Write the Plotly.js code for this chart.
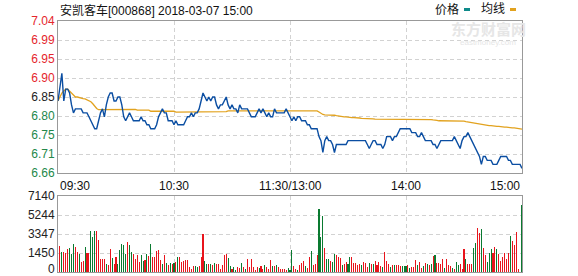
<!DOCTYPE html>
<html><head><meta charset="utf-8">
<script src="https://cdn.plot.ly/plotly-3.0.1.min.js"></script>
<style>html,body{margin:0;padding:0;background:#fff;}#chart{width:578px;height:276px;}</style>
</head><body><div id="chart"></div>
<script>
const stockTitle = "安凯客车[000868] 2018-03-07 15:00";
const legendNames = ["价格", "均线"];
const prevClose = 6.85;
const timeLabels = ["09:30", "10:30", "11:30/13:00", "14:00", "15:00"];
const timeTickMinutes = [0, 60, 120, 180, 240];
const priceTickLabels = ["6.66","6.71","6.75","6.80","6.85","6.90","6.95","6.99","7.04"];
const pctTicks = [-2.8,-2.1,-1.4,-0.7,0,0.7,1.4,2.1,2.8];
const pctTickLabels = ["2.80%","2.10%","1.40%","0.70%","0.00%","0.70%","1.40%","2.10%","2.80%"];
const volTickLabels = ["0","1450","3347","5244","7140"];
const volMax = 7140;

const price = [
6.84,6.87,6.91,6.84,6.87,6.87,6.86,6.83,6.81,6.82,
6.82,6.82,6.82,6.81,6.81,6.81,6.80,6.79,6.78,6.77,
6.77,6.79,6.81,6.82,6.80,6.83,6.85,6.86,6.86,6.84,
6.84,6.85,6.85,6.83,6.80,6.79,6.80,6.81,6.80,6.79,
6.79,6.79,6.79,6.80,6.79,6.79,6.78,6.78,6.77,6.77,
6.77,6.78,6.80,6.81,6.82,6.81,6.81,6.79,6.79,6.79,
6.78,6.79,6.78,6.78,6.78,6.78,6.79,6.80,6.80,6.81,
6.80,6.81,6.81,6.82,6.84,6.86,6.85,6.84,6.85,6.84,
6.85,6.85,6.83,6.82,6.83,6.83,6.84,6.85,6.83,6.82,
6.83,6.82,6.82,6.81,6.83,6.82,6.82,6.82,6.82,6.81,
6.80,6.80,6.80,6.81,6.82,6.81,6.82,6.81,6.80,6.81,
6.80,6.80,6.82,6.81,6.81,6.81,6.81,6.81,6.82,6.81,
6.80,6.79,6.80,6.79,6.80,6.80,6.79,6.79,6.79,6.78,
6.78,6.77,6.77,6.77,6.77,6.75,6.74,6.71,6.74,6.75,
6.74,6.74,6.73,6.71,6.73,6.73,6.73,6.73,6.73,6.73,
6.74,6.74,6.74,6.74,6.74,6.74,6.74,6.74,6.74,6.74,
6.73,6.72,6.73,6.74,6.74,6.73,6.73,6.73,6.72,6.73,
6.75,6.75,6.75,6.74,6.75,6.75,6.76,6.77,6.77,6.77,
6.77,6.77,6.77,6.76,6.76,6.76,6.75,6.75,6.76,6.75,
6.74,6.74,6.74,6.74,6.73,6.73,6.72,6.73,6.74,6.74,
6.74,6.74,6.74,6.74,6.74,6.75,6.74,6.73,6.72,6.74,
6.75,6.75,6.76,6.75,6.74,6.73,6.72,6.71,6.70,6.68,
6.70,6.70,6.69,6.69,6.69,6.68,6.68,6.68,6.69,6.70,
6.70,6.70,6.70,6.69,6.69,6.68,6.68,6.68,6.68,6.68,
6.67];

const avgPrice = [
6.840,6.850,6.860,6.865,6.870,6.870,6.865,6.860,6.855,6.850,
6.850,6.848,6.847,6.846,6.845,6.843,6.842,6.838,6.833,6.826,
6.821,6.818,6.818,6.818,6.818,6.818,6.818,6.818,6.818,6.818,
6.818,6.818,6.818,6.819,6.819,6.819,6.819,6.819,6.819,6.819,
6.819,6.817,6.817,6.817,6.817,6.817,6.817,6.817,6.814,6.814,
6.814,6.814,6.814,6.814,6.814,6.814,6.814,6.814,6.814,6.814,
6.814,6.812,6.812,6.812,6.812,6.812,6.812,6.812,6.812,6.812,
6.812,6.812,6.812,6.812,6.812,6.812,6.813,6.813,6.813,6.813,
6.813,6.813,6.813,6.813,6.813,6.813,6.813,6.813,6.815,6.815,
6.815,6.815,6.815,6.815,6.815,6.815,6.815,6.815,6.815,6.815,
6.815,6.815,6.815,6.815,6.815,6.815,6.815,6.815,6.815,6.815,
6.815,6.815,6.815,6.815,6.815,6.815,6.815,6.815,6.815,6.815,
6.815,6.815,6.815,6.815,6.815,6.815,6.815,6.815,6.815,6.815,
6.815,6.815,6.815,6.815,6.815,6.812,6.808,6.806,6.805,6.805,
6.805,6.805,6.805,6.804,6.803,6.802,6.802,6.801,6.800,6.800,
6.799,6.799,6.798,6.798,6.798,6.797,6.797,6.796,6.796,6.796,
6.795,6.795,6.795,6.795,6.794,6.794,6.794,6.794,6.794,6.793,
6.793,6.793,6.793,6.793,6.793,6.793,6.793,6.793,6.793,6.793,
6.793,6.793,6.793,6.793,6.793,6.793,6.793,6.793,6.793,6.793,
6.793,6.793,6.793,6.793,6.792,6.792,6.791,6.790,6.790,6.790,
6.790,6.790,6.790,6.790,6.790,6.790,6.790,6.790,6.790,6.790,
6.789,6.788,6.787,6.786,6.785,6.784,6.783,6.782,6.781,6.781,
6.780,6.779,6.779,6.778,6.778,6.777,6.777,6.776,6.776,6.775,
6.775,6.774,6.774,6.773,6.773,6.772,6.772,6.771,6.771,6.770,
6.769];

const volume = [
0,2430,1865,1865,1770,2150,2275,1705,2620,2370,
1865,1675,915,1010,2370,1770,1770,3855,3285,3855,
3855,2970,1200,1200,1200,760,630,2150,1330,725,
1390,725,2085,2620,2495,1705,2810,2530,1865,1675,
1265,1580,950,1580,1010,1105,1645,1485,2655,1390,
1455,1960,2055,1105,760,1580,885,695,820,760,
885,950,1390,1390,950,1010,1105,1105,440,315,
570,570,450,600,1420,3570,1010,790,725,725,
630,885,760,760,315,695,1580,1705,1295,535,
255,440,220,505,380,820,440,315,1200,475,
1200,440,220,505,410,570,285,695,440,315,
1140,570,600,695,440,315,315,255,190,350,
150,2055,570,285,190,630,885,1010,570,410,
1390,1960,695,760,1580,5940,3285,5280,2275,1200,
1200,1010,950,1675,1580,1455,1295,695,790,950,
790,1390,1420,885,885,695,790,630,950,855,
440,855,790,790,1010,695,950,570,500,1895,
1010,790,475,630,630,695,695,570,570,570,
570,695,350,440,440,1105,630,950,380,570,
820,760,630,725,1485,1580,885,820,760,1200,
410,1200,695,570,350,315,915,630,760,300,
2150,1200,725,725,790,2275,2720,4140,3665,4045,
2210,1580,950,1770,2150,1740,2340,2150,1705,1075,
1455,1770,1265,1770,3380,2905,2530,3760,315,0,
6290];

const volDir = [
1,1,-1,1,1,1,-1,-1,-1,1,
1,-1,1,1,-1,1,1,-1,-1,-1,
1,1,1,1,1,-1,1,1,-1,1,
1,-1,-1,-1,-1,-1,1,-1,-1,1,
1,1,1,-1,-1,1,-1,1,-1,1,
1,1,1,1,-1,1,-1,1,-1,1,
-1,1,-1,1,1,1,1,1,1,1,
1,-1,-1,1,1,1,-1,-1,1,-1,
1,-1,1,1,1,1,1,1,-1,-1,
1,-1,-1,1,1,-1,1,-1,1,1,
1,1,1,1,-1,1,1,-1,1,1,
1,-1,1,-1,1,1,1,1,1,-1,
-1,-1,1,1,-1,1,1,1,-1,1,
1,-1,1,1,1,-1,-1,-1,1,-1,
-1,1,-1,-1,1,1,1,-1,1,1,
-1,-1,1,1,1,1,1,-1,1,1,
1,-1,1,-1,1,1,1,1,-1,1,
1,1,-1,1,-1,1,1,1,-1,-1,
-1,1,-1,1,1,1,-1,1,1,-1,
1,-1,1,-1,1,-1,1,1,1,1,
-1,1,1,1,-1,1,-1,-1,1,1,
1,-1,1,1,1,-1,-1,1,1,-1,
1,1,-1,-1,-1,1,1,-1,1,1,
1,1,1,1,-1,1,1,1,1,1,
-1];

const minutes = price.map((_, i) => i);

const RED = "#e5262d", GREEN = "#23884a", BLACK = "#222";
const UPBAR = "#e8141c", DOWNBAR = "#0a7a30";
const PRICE_C = "#0b4ea2", AVG_C = "#e2a21e";
const FONT = "Liberation Sans, Noto Sans CJK SC, sans-serif";

function tone(p) { return p > 0 ? RED : (p < 0 ? GREEN : BLACK); }
const priceTicks = pctTicks.map(p => prevClose * (1 + p / 100));
const priceTickText = priceTickLabels.map((t, k) => `<span style="color:${tone(pctTicks[k])}">${t}</span>`);
const pctTickText = pctTickLabels.map((t, k) => `<span style="color:${tone(pctTicks[k])}">${t}</span>`);
const volTicks = [0, volMax / 4, volMax / 2, volMax * 3 / 4, volMax];

const W = 578, H = 276, L = 58, R = 56, T = 21, B = 4;
const PW = W - L - R, PH = H - T - B;
const px = x => (x - L) / PW;
const py = y => (H - B - y) / PH;

const grid = { showgrid: true, gridcolor: "#d2d2d2", griddash: "4px,3px", gridwidth: 1,
  showline: true, linecolor: "#999", linewidth: 1, mirror: true, zeroline: false, fixedrange: true, ticks: "" };

const traces = [
  { type: "bar", x: minutes, y: volume, xaxis: "x2", yaxis: "y3", width: 0.55,
    marker: { color: volDir.map(d => d > 0 ? UPBAR : DOWNBAR), line: { width: 0 } }, hoverinfo: "skip" },
  { type: "scatter", mode: "lines", x: minutes, y: avgPrice, xaxis: "x", yaxis: "y",
    line: { color: AVG_C, width: 1.3 }, hoverinfo: "skip" },
  { type: "scatter", mode: "lines", x: minutes, y: price, xaxis: "x", yaxis: "y",
    line: { color: PRICE_C, width: 1.4 }, hoverinfo: "skip" }
];

const annotations = [
  { text: stockTitle, xref: "paper", yref: "paper", x: px(58), y: py(10), xanchor: "left", yanchor: "middle",
    showarrow: false, font: { family: FONT, size: 12, color: "#111" } },
  { text: legendNames[0], xref: "paper", yref: "paper", x: px(433), y: py(9), xanchor: "left", yanchor: "middle",
    showarrow: false, font: { family: FONT, size: 12, color: "#111" } },
  { text: legendNames[1], xref: "paper", yref: "paper", x: px(479), y: py(9), xanchor: "left", yanchor: "middle",
    showarrow: false, font: { family: FONT, size: 12, color: "#111" } },
  { text: "<b>东方财富网</b>", xref: "paper", yref: "paper", x: px(488), y: py(30), xanchor: "center", yanchor: "middle",
    showarrow: false, font: { family: FONT, size: 15, color: "#e6e6e6" } },
  { text: "eastmoney.com", xref: "paper", yref: "paper", x: px(488), y: py(42), xanchor: "center", yanchor: "middle",
    showarrow: false, font: { family: FONT, size: 8, color: "#e6e6e6" } },
  // bottom volume label "0", lifted slightly so it stays inside the page
  { text: volTickLabels[0], xref: "paper", yref: "y3", x: px(56), y: volTicks[0], xanchor: "right", yanchor: "middle",
    yshift: 3, showarrow: false, borderpad: 0, font: { family: FONT, size: 12, color: "#222" } }
];
timeLabels.forEach((t, k) => {
  annotations.push({ text: t, xref: "x", yref: "paper", x: timeTickMinutes[k], y: py(186),
    xanchor: k === 0 ? "left" : (k === timeLabels.length - 1 ? "right" : "center"), yanchor: "middle",
    showarrow: false, font: { family: FONT, size: 12, color: "#111" } });
});

const shapes = [
  { type: "rect", xref: "paper", yref: "paper", x0: px(464), x1: px(470), y0: py(11), y1: py(8),
    fillcolor: "#0e8a8a", line: { width: 0 } },
  { type: "rect", xref: "paper", yref: "paper", x0: px(510), x1: px(516), y0: py(11), y1: py(8),
    fillcolor: AVG_C, line: { width: 0 } }
];

const layout = {
  width: W, height: H, margin: { l: L, r: R, t: T, b: B, pad: 0 },
  paper_bgcolor: "#fff", plot_bgcolor: "#fff", showlegend: false,
  font: { family: FONT, size: 12, color: BLACK },
  xaxis: Object.assign({}, grid, { domain: [0, 1], anchor: "y", range: [0, 240], tickvals: timeTickMinutes, showticklabels: false }),
  yaxis: Object.assign({}, grid, { domain: [py(173), 1], anchor: "x", range: [priceTicks[0], priceTicks[priceTicks.length - 1]],
    tickvals: priceTicks, ticktext: priceTickText, tickfont: { family: FONT, size: 12 }, ticklabeloverflow: "allow" }),
  yaxis2: { overlaying: "y", side: "right", anchor: "x", range: [pctTicks[0], pctTicks[pctTicks.length - 1]],
    tickvals: pctTicks, ticktext: pctTickText, showgrid: false, zeroline: false, showline: false, ticks: "",
    fixedrange: true, tickfont: { family: FONT, size: 12 }, ticklabeloverflow: "allow" },
  xaxis2: Object.assign({}, grid, { domain: [0, 1], anchor: "y3", range: [0, 240], tickvals: timeTickMinutes, showticklabels: false }),
  yaxis3: Object.assign({}, grid, { domain: [0, py(196)], anchor: "x2", range: [0, volMax],
    tickvals: volTicks.slice(1), ticktext: volTickLabels.slice(1), tickfont: { family: FONT, size: 12, color: "#222" } }),
  annotations: annotations, shapes: shapes, bargap: 0
};

Plotly.newPlot("chart", traces, layout, { staticPlot: true, displayModeBar: false });
</script>
</body></html>
